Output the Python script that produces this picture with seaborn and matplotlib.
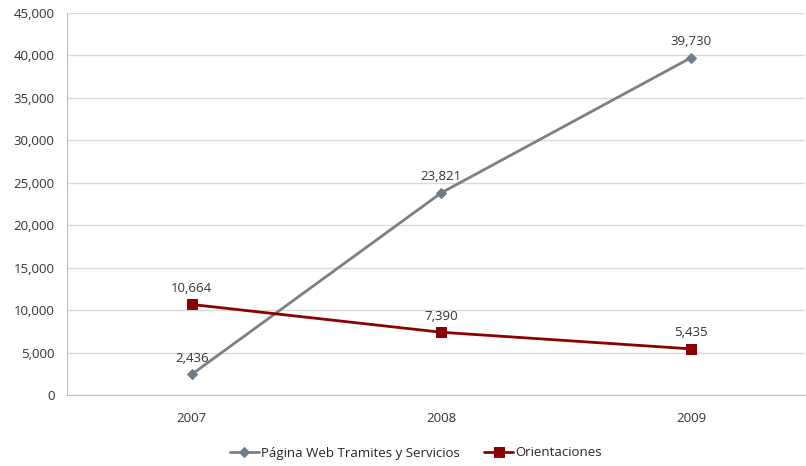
import matplotlib
matplotlib.use("Agg")
import matplotlib.pyplot as plt
import seaborn as sns
import pandas as pd
from matplotlib.ticker import FuncFormatter, MultipleLocator, FixedLocator

years = ["2007", "2008", "2009"]
web_values = [2436, 23821, 39730]
orient_values = [10664, 7390, 5435]
series_names = ["Página Web Tramites y Servicios", "Orientaciones"]

sns.set_style("white")
plt.rcParams["font.family"] = ["Open Sans", "DejaVu Sans"]

df = pd.DataFrame({
    "year": years * 2,
    "value": web_values + orient_values,
    "serie": [series_names[0]] * 3 + [series_names[1]] * 3,
})
df["x"] = list(range(len(years))) * 2

fig = plt.figure(figsize=(8.06, 4.66), dpi=100)
ax = fig.add_axes([67 / 806, (466 - 395) / 466, (805 - 67) / 806, (395 - 13) / 466])

colors = {series_names[0]: "#7f7f7f", series_names[1]: "#8b0000"}
markers = {series_names[0]: "D", series_names[1]: "s"}
msize = {series_names[0]: 5, series_names[1]: 7}
mcol = {series_names[0]: "#6d7b8d", series_names[1]: "#8b0000"}

for name in series_names:
    sub = df[df["serie"] == name]
    sns.lineplot(data=sub, x="x", y="value", ax=ax, color=colors[name], lw=2,
                 marker=markers[name], markersize=msize[name],
                 markerfacecolor=mcol[name], markeredgecolor=mcol[name],
                 label=name, legend=False)
    for xv, yv in zip(sub["x"], sub["value"]):
        ax.annotate(f"{yv:,}", (xv, yv), xytext=(0, 7), textcoords="offset points",
                    ha="center", va="bottom", fontsize=9.5, color="#333333")

ax.set_xlim(-0.5, 2.457)
ax.set_ylim(0, 45000)
ax.yaxis.set_major_locator(MultipleLocator(5000))
ax.yaxis.set_major_formatter(FuncFormatter(lambda v, p: f"{int(v):,}"))
ax.xaxis.set_major_locator(FixedLocator([0, 1, 2]))
ax.set_xticklabels(years)
ax.xaxis.set_minor_locator(FixedLocator([0.5, 1.5]))
ax.tick_params(axis="x", which="major", length=0, pad=12, labelsize=9.5, colors="#333333")
ax.tick_params(axis="x", which="minor", length=5, color="#bfbfbf", direction="out")
ax.tick_params(axis="y", length=5, color="#bfbfbf", labelsize=9.5, colors="#333333", pad=4)
ax.grid(axis="y", color="#d9d9d9", lw=1)
ax.set_axisbelow(True)
ax.set_xlabel("")
ax.set_ylabel("")
for s in ["top", "right"]:
    ax.spines[s].set_visible(False)
ax.spines["left"].set_color("#bfbfbf")
ax.spines["bottom"].set_color("#bfbfbf")

handles, labels = ax.get_legend_handles_labels()
fig.legend(handles, labels, loc="center", bbox_to_anchor=(416 / 806, 1 - 453 / 466),
           ncol=2, frameon=False, fontsize=9.5, handlelength=2.2, handletextpad=0.2,
           columnspacing=1.8)

fig.savefig("out.png", dpi=100)
